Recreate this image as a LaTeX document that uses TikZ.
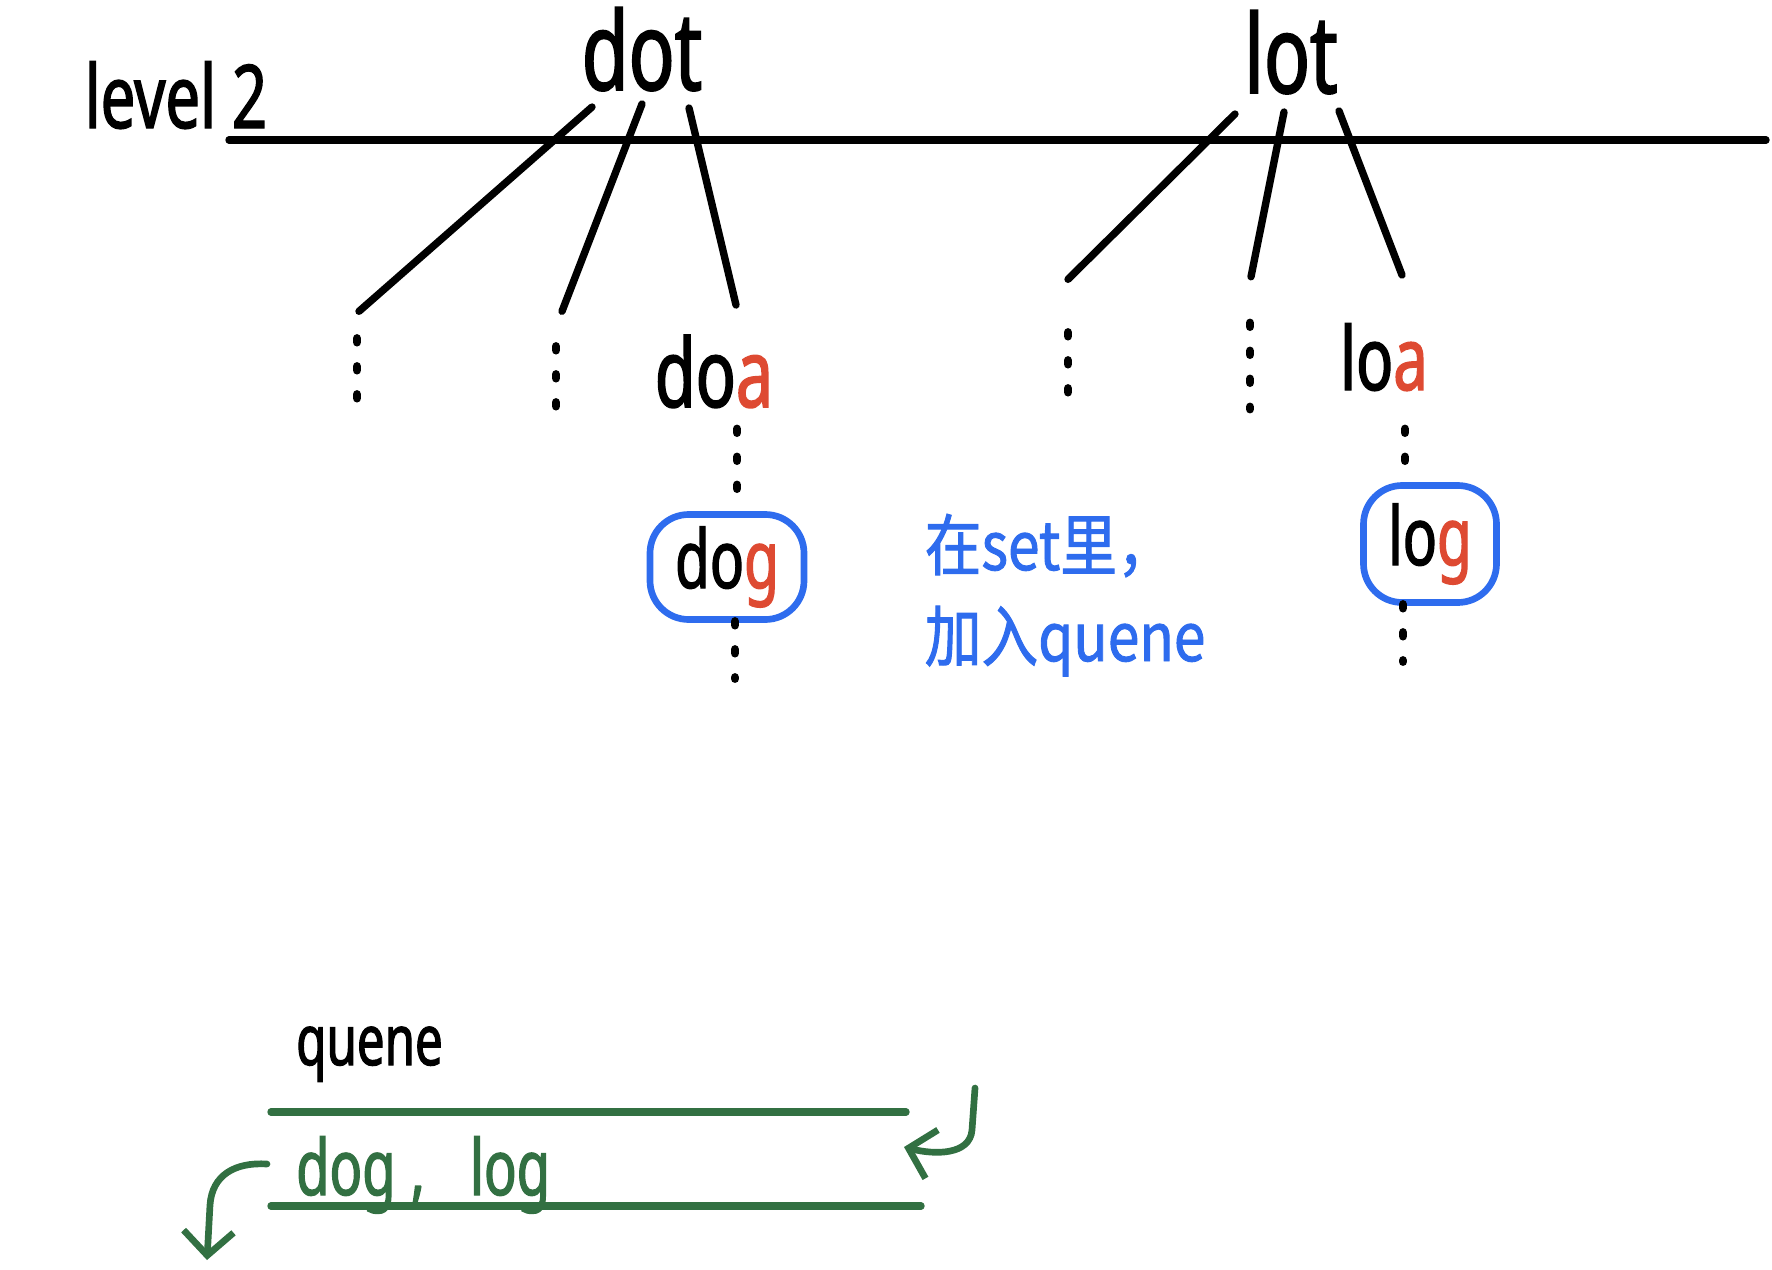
\documentclass[tikz,border=0pt]{standalone}
\usepackage{fontspec}
\usepackage{xcolor}
\usepackage{tikz}
\usetikzlibrary{arrows.meta, positioning, calc}
\newfontfamily\hand[FakeStretch=0.7, FakeBold=1.6]{Noto Sans}
\newfontfamily\cjk[FakeStretch=0.85, FakeBold=1.4]{Noto Sans CJK SC}
\definecolor{penred}{RGB}{222,74,50}
\definecolor{penblue}{RGB}{46,108,238}
\definecolor{pengreen}{RGB}{50,112,66}

\begin{document}
\begin{tikzpicture}[
    word/.style={font={\hand\fontsize{#1}{#1}\selectfont}, inner sep=1pt, anchor=base},
    note/.style={font={\cjk\fontsize{19}{19}\selectfont}, text=penblue, inner sep=0pt, anchor=base west},
    vdots/.style={minimum height=#1, minimum width=0pt, inner sep=0pt},
    ring/.style={draw=penblue, line width=1.9pt, rounded corners=11pt},
    branch/.style={line width=2.1pt, line cap=round},
    dotcol/.style={line width=2.4pt, line cap=round, dash pattern=on 0.04cm off 0.24cm},
    qline/.style={pengreen, line width=2.1pt, line cap=round},
    qarrow/.style={pengreen, line width=1.9pt, line cap=round, -{Straight Barb[length=2.4mm,width=5mm]}}
]
\useasboundingbox (0,0) rectangle (17.72,-12.69);

\node[word=25] (level) at (1.76,-1.28) {level 2};
\draw[branch] (2.29,-1.40) -- (17.66,-1.40);

\node[word=31] (dot) at (6.42,-0.90) {dot};
\node[word=31] (lot) at (12.91,-0.93) {lot};

\node[vdots=0.64cm] (va1) at (3.57,-3.71) {};
\node[vdots=0.68cm] (va2) at (5.56,-3.81) {};
\node[word=27] (doa) at (7.14,-4.07) {do\textcolor{penred}{a}};
\node[vdots=0.67cm] (va3) at (7.37,-4.63) {};
\node[word=23, ring, minimum width=1.54cm, minimum height=1.05cm] (dog) at (7.27,-5.88) {do\textcolor{penred}{g}};
\node[vdots=0.56cm] (va4) at (7.35,-6.50) {};

\node[vdots=0.74cm] (vb1) at (10.68,-3.70) {};
\node[vdots=0.85cm] (vb2) at (12.50,-3.66) {};
\node[word=25] (loa) at (13.84,-3.90) {lo\textcolor{penred}{a}};
\node[vdots=0.51cm] (vb3) at (14.05,-4.55) {};
\node[word=23, ring, minimum width=1.33cm, minimum height=1.17cm] (log) at (14.30,-5.65) {lo\textcolor{penred}{g}};
\node[vdots=0.56cm] (vb4) at (14.03,-6.33) {};

\node[note] (note1) at (9.24,-5.70) {在set里，};
\node[note] (note2) at (9.24,-6.61) {加入quene};

\draw[branch] ($(dot.base)+(-0.50,-0.17)$) -- ($(va1.north)+(0.02,0.27)$);
\draw[branch] ($(dot.base)+(0,-0.14)$) -- ($(va2.north)+(0.06,0.35)$);
\draw[branch] ($(dot.base)+(0.47,-0.18)$) -- ($(doa.base)+(0.22,1.02)$);
\draw[branch] ($(lot.base)+(-0.56,-0.21)$) -- ($(vb1.north)+(0,0.53)$);
\draw[branch] ($(lot.base)+(-0.07,-0.19)$) -- ($(vb2.north)+(0.01,0.46)$);
\draw[branch] ($(lot.base)+(0.48,-0.18)$) -- ($(loa.base)+(0.18,1.15)$);

\draw[dotcol] (va1.north) -- (va1.south);
\draw[dotcol] (va2.north) -- (va2.south);
\draw[dotcol] (va3.north) -- (va3.south);
\draw[dotcol] (va4.north) -- (va4.south);
\draw[dotcol] (vb1.north) -- (vb1.south);
\draw[dotcol] (vb2.north) -- (vb2.south);
\draw[dotcol] (vb3.north) -- (vb3.south);
\draw[dotcol] (vb4.north) -- (vb4.south);

\node[word=20, anchor=base west] (queue) at (2.92,-10.65) {quene};
\coordinate (qtopL) at (2.71,-11.12);
\coordinate (qtopR) at (9.06,-11.12);
\coordinate (qbotL) at (2.71,-12.06);
\coordinate (qbotR) at (9.21,-12.06);
\draw[qline] (qtopL) -- (qtopR);
\draw[qline] (qbotL) -- (qbotR);
\node[word=22, anchor=base west, text=pengreen] (items) at (2.92,-11.95) {dog\hspace{0.15cm},\hspace{0.45cm}log};

\coordinate (pushin) at (9.75,-10.88);
\coordinate (pushto) at (9.04,-11.47);
\coordinate (popout) at (2.67,-11.64);
\coordinate (popto) at (2.07,-12.60);
\draw[qarrow] (pushin) -- (9.72,-11.30) .. controls (9.70,-11.55) and (9.35,-11.55) .. (pushto);
\draw[qarrow] (popout) .. controls (2.35,-11.62) and (2.12,-11.75) .. (2.10,-12.05) -- (popto);
\end{tikzpicture}
\end{document}
